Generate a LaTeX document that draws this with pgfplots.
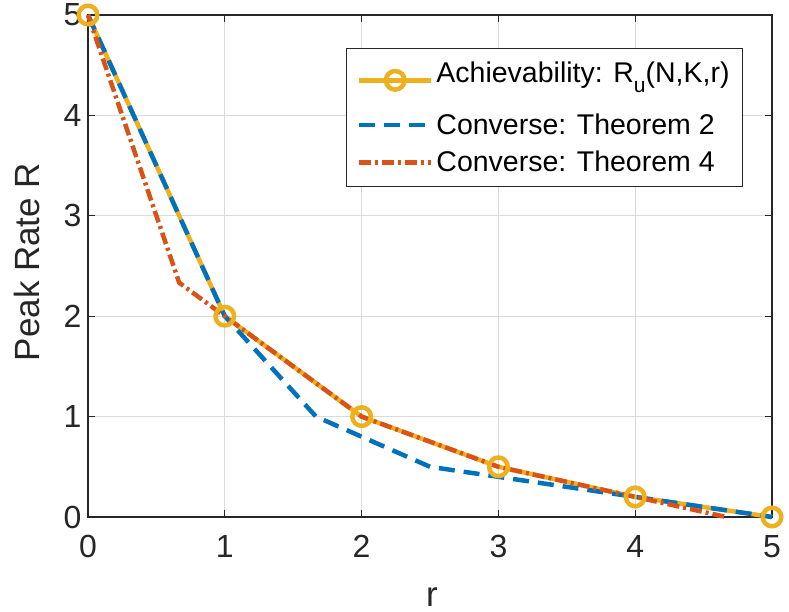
\documentclass[border=0pt]{standalone}
\usepackage{pgfplots}
\pgfplotsset{compat=1.18}
\usepackage{fontspec}
\setmainfont{Liberation Sans}
\definecolor{myyellow}{HTML}{EDB120}
\definecolor{myblue}{HTML}{0072BD}
\definecolor{myred}{HTML}{D95319}
\definecolor{axgray}{HTML}{262626}
\begin{document}
\begin{tikzpicture}
\begin{axis}[
  at={(88pt,95pt)}, anchor=south west,
  scale only axis, width=684pt, height=502pt,
  xmin=0, xmax=5, ymin=0, ymax=5,
  xtick={0,1,2,3,4,5}, ytick={0,1,2,3,4,5},
  clip=false,
  axis line style={color=axgray, line width=1.2pt},
  tick style={color=axgray, line width=1.2pt},
  major tick length=7pt,
  tick align=inside,
  grid=major,
  major grid style={color=black!14, line width=0.9pt},
  /pgf/number format/assume math mode=true,
  ticklabel style={font=\fontsize{32}{36}\selectfont, text=axgray},
  xticklabel style={yshift=-15pt},
  yticklabel style={xshift=-3pt},
  xlabel={r}, ylabel={Peak Rate R},
  label style={font=\fontsize{35}{40}\selectfont, text=axgray},
  xlabel style={at={(axis description cs:0.503,-0.1773)}, anchor=base},
  ylabel style={at={(axis description cs:-0.0702,0.508)}, anchor=base, rotate=0},
  legend cell align=left,
  legend style={at={(0.9576,0.9343)}, anchor=north east,
    draw=axgray, line width=1pt, fill=white,
    font=\fontsize{28.5}{32}\selectfont,
    inner xsep=10pt, inner ysep=10pt, row sep=9pt,
    nodes={inner sep=3pt}},
  legend image code/.code={\draw[mark repeat=2,mark phase=2] plot coordinates {(0pt,0pt) (36pt,0pt) (72pt,0pt)};},
]
\addplot[color=myyellow, line width=4.5pt, mark=o, mark size=9.3pt, mark options={solid, line width=4.5pt}]
  coordinates {(0,5) (1,2) (2,1) (3,0.5) (4,0.2) (5,0)};
\addlegendentry[text depth=17pt]{Achievability: R\raisebox{-10pt}{\fontsize{21}{21}\selectfont u}(N,K,r)}
\addplot[color=myblue, line width=4.5pt, dash pattern=on 16pt off 9pt]
  coordinates {(0,5) (1,2) (1.6667,1) (2.5,0.5) (3,0.4) (4,0.2) (5,0)};
\addlegendentry{Converse: Theorem 2}
\addplot[color=myred, line width=4.5pt, dash pattern=on 12pt off 4pt on 3pt off 4pt]
  coordinates {(0,5) (0.6667,2.3333) (1,2) (2,1) (3,0.5) (4,0.2) (4.6667,0)};
\addlegendentry{Converse: Theorem 4}
\end{axis}
\pgfresetboundingbox
\path[use as bounding box] (0,0) rectangle (789pt,612pt);
\end{tikzpicture}
\end{document}
